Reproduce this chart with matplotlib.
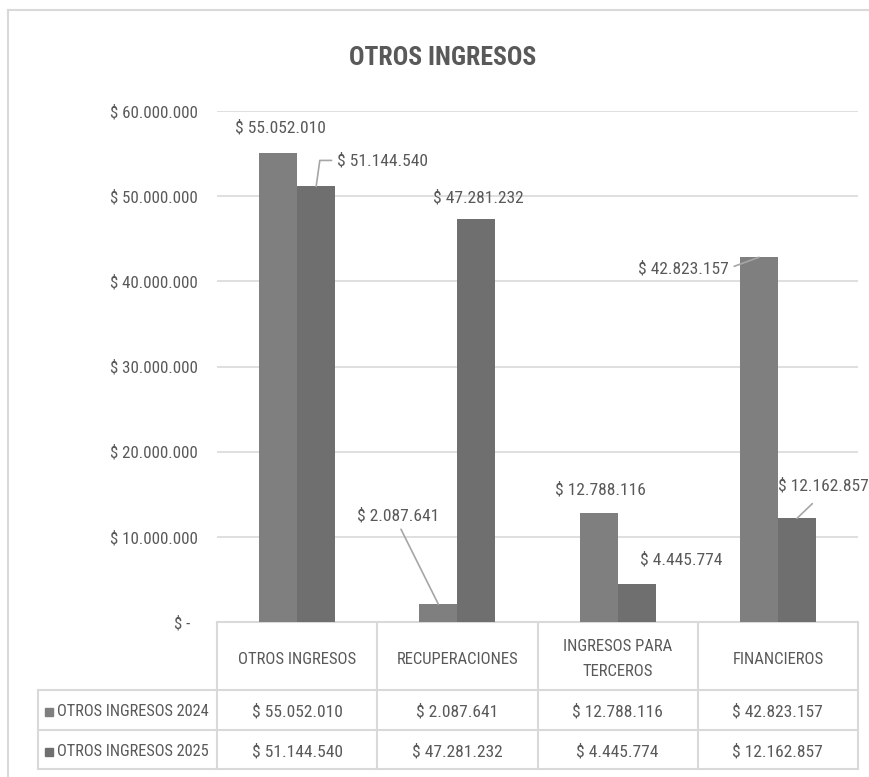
import matplotlib
matplotlib.use('Agg')
import matplotlib.pyplot as plt
from matplotlib import font_manager
from matplotlib.patches import Rectangle

# datos
categorias = ['OTROS INGRESOS', 'RECUPERACIONES', 'INGRESOS PARA\nTERCEROS', 'FINANCIEROS']
series = ['OTROS INGRESOS 2024', 'OTROS INGRESOS 2025']
valores_2024 = [55052010, 2087641, 12788116, 42823157]
valores_2025 = [51144540, 47281232, 4445774, 12162857]
y_ticks = [0, 10000000, 20000000, 30000000, 40000000, 50000000, 60000000]
titulo = 'OTROS INGRESOS'

# fuente estrecha si existe
disponibles = {f.name for f in font_manager.fontManager.ttflist}
fuente = 'DejaVu Sans'
escala = 0.82
for fam in ['Liberation Sans Narrow', 'Roboto Condensed', 'Open Sans Condensed']:
    if fam in disponibles:
        fuente = fam
        escala = 1.0
        break
plt.rcParams['font.family'] = [fuente, 'DejaVu Sans']
plt.rcParams['font.stretch'] = 'condensed'

gris_texto = '#595959'
gris_linea = '#d9d9d9'
gris_guia = '#a6a6a6'
colores = ['#7f7f7f', '#6f6f6f']
fs = 12.6 * escala


def pesos(v):
    if v == 0:
        return '$ -  '
    return '$ ' + f'{v:,.0f}'.replace(',', '.')


W, H = 869, 777
fig = plt.figure(figsize=(W / 100, H / 100), dpi=100)

# capa de fondo en pixeles (tabla y borde)
deco = fig.add_axes([0, 0, 1, 1], zorder=0)
deco.set_xlim(0, W)
deco.set_ylim(H, 0)
deco.axis('off')

ax = fig.add_axes([217 / W, 1 - 622 / H, (858 - 217) / W, (622 - 111) / H], zorder=1)
ax.set_facecolor('none')

x = range(len(categorias))
ancho = 0.2375
b1 = ax.bar([i - ancho / 2 for i in x], valores_2024, ancho, color=colores[0], zorder=2)
b2 = ax.bar([i + ancho / 2 for i in x], valores_2025, ancho, color=colores[1], zorder=2)

ax.set_xlim(-0.5, len(categorias) - 0.5)
ax.set_ylim(0, 60000000)
ax.set_yticks(y_ticks)
ax.set_yticklabels([pesos(v) for v in y_ticks], fontsize=12.2 * escala, color=gris_texto)
ax.set_xticks([])
ax.tick_params(axis='y', length=0, pad=14)
ax.grid(axis='y', color=gris_linea, linewidth=1.2, zorder=0)
for s in ax.spines.values():
    s.set_visible(False)

# etiquetas de datos: (barra, desplazamiento px, alineacion, guia)
etiquetas = [
    (b1[0], (2, 25), 'center', None),
    (b2[0], (21, 26), 'left', dict(connectionstyle='angle,angleA=0,angleB=82', relpos=(0, 0.5))),
    (b1[1], (-40, 88), 'center', dict(relpos=(0.5, 0))),
    (b2[1], (2, 22), 'center', None),
    (b1[2], (2, 23), 'center', None),
    (b2[2], (45, 24), 'center', None),
    (b1[3], (-30, -11), 'right', dict(relpos=(1, 0.5))),
    (b2[3], (-19, 33), 'left', dict(relpos=(0.5, 0), shrinkA=8)),
]
for barra, off, ha, guia in etiquetas:
    xc = barra.get_x() + barra.get_width() / 2
    yv = barra.get_height()
    flecha = None
    if guia is not None:
        flecha = dict(arrowstyle='-', color=gris_guia, lw=1.2, shrinkA=2, shrinkB=0)
        flecha.update(guia)
    ax.annotate(pesos(yv), xy=(xc, yv), xytext=off, textcoords='offset pixels',
                ha=ha, va='center', fontsize=fs, color=gris_texto,
                arrowprops=flecha, annotation_clip=False)

fig.text(443 / W, 1 - 58 / H, titulo, ha='center', va='center',
         fontsize=18.5 * escala, fontweight='bold', color=gris_texto)

# borde del grafico
deco.plot([8, W], [10, 10], color=gris_linea, lw=1.5)
deco.plot([8, 8], [10, H], color=gris_linea, lw=1.5)

# tabla de datos
fig.canvas.draw()
bordes = [ax.transData.transform((i - 0.5, 0))[0] for i in range(len(categorias) + 1)]
centros = [ax.transData.transform((i, 0))[0] for i in x]
y_top, y_h, y_r1, y_r2 = 622, 690, 730, 769
izq = 38

deco.plot([bordes[0], bordes[-1]], [y_top, y_top], color=gris_linea, lw=1.5)
for yy in [y_h, y_r1, y_r2]:
    deco.plot([izq, bordes[-1]], [yy, yy], color=gris_linea, lw=1.5)
deco.plot([izq, izq], [y_h, y_r2], color=gris_linea, lw=1.5)
for xb in bordes:
    deco.plot([xb, xb], [y_top, y_r2], color=gris_linea, lw=1.5)

for xc, cat in zip(centros, categorias):
    deco.text(xc, (y_top + y_h) / 2 + 3, cat, ha='center', va='center',
              fontsize=12 * escala, color=gris_texto, linespacing=1.9)

for fila, (nombre, vals, col) in enumerate(zip(series, [valores_2024, valores_2025], colores)):
    yc = (y_h + y_r1) / 2 + 2 if fila == 0 else (y_r1 + y_r2) / 2 + 2
    deco.add_patch(Rectangle((45, yc - 4), 8, 8, color=col))
    deco.text(57, yc, nombre, ha='left', va='center', fontsize=11.8 * escala, color=gris_texto)
    for xc, v in zip(centros, vals):
        deco.text(xc, yc, pesos(v), ha='center', va='center', fontsize=fs, color=gris_texto)

fig.savefig('out.png', dpi=100)
